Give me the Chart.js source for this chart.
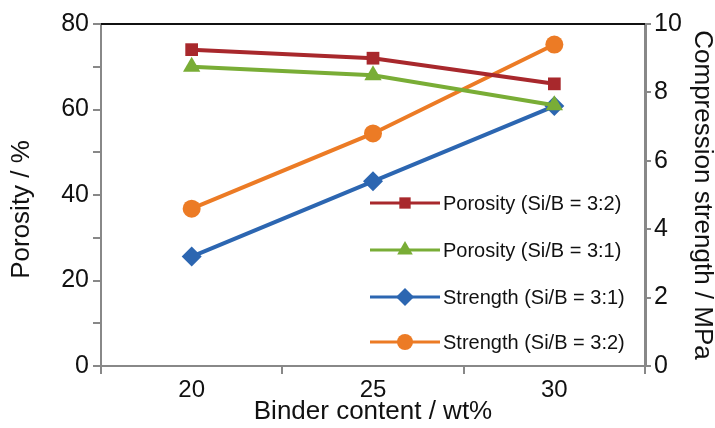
<!DOCTYPE html>
<html>
<head>
<meta charset="utf-8">
<script src="https://cdn.jsdelivr.net/npm/chart.js@4.4.0/dist/chart.umd.min.js"></script>
<style>
  html, body { margin: 0; padding: 0; background: #fff; }
  #wrap { width: 715px; height: 428px; }
</style>
</head>
<body>
<div id="wrap"><canvas id="chart" width="715" height="428"></canvas></div>
<script>
// данные с графика
const binderContent = ['20', '25', '30'];
const porosity32 = [74, 72, 66];
const porosity31 = [70, 68, 61];
const strength31 = [3.2, 5.4, 7.6];
const strength32 = [4.6, 6.8, 9.4];

const RED = '#a8282c';
const GREEN = '#79ad36';
const BLUE = '#2c66b1';
const ORANGE = '#ec7b25';

const FONT = "'Liberation Sans', Arial, sans-serif";

// легенда: линия + маркер посередине + подпись
const lineLegend = {
    id: 'lineLegend',
    afterDraw(chart) {
        const ctx = chart.ctx;
        const x0 = 370, x1 = 440;
        const rows = [203, 250, 297, 342];
        chart.data.datasets.forEach((ds, i) => {
            const y = rows[i];
            ctx.save();
            ctx.strokeStyle = ds.borderColor;
            ctx.lineWidth = 3;
            ctx.beginPath();
            ctx.moveTo(x0, y);
            ctx.lineTo(x1, y);
            ctx.stroke();
            ctx.fillStyle = ds.borderColor;
            Chart.helpers.drawPoint(ctx, {
                pointStyle: ds.pointStyle,
                radius: ds.pointRadius - 1,
                rotation: 0,
                borderWidth: 0
            }, (x0 + x1) / 2, y);
            ctx.fillStyle = '#111';
            ctx.font = '20px ' + FONT;
            ctx.textBaseline = 'middle';
            ctx.textAlign = 'left';
            ctx.fillText(ds.label, x1 + 3, y + 1);
            ctx.restore();
        });
    }
};

// верхняя чёрная рамка
const topBorder = {
    id: 'topBorder',
    afterDraw(chart) {
        const a = chart.chartArea;
        const ctx = chart.ctx;
        ctx.save();
        ctx.strokeStyle = '#111';
        ctx.lineWidth = 2;
        ctx.beginPath();
        ctx.moveTo(a.left, a.top);
        ctx.lineTo(a.right, a.top);
        ctx.stroke();
        ctx.restore();
    }
};

function series(label, data, color, style, radius, axis) {
    return {
        label: label,
        data: data,
        yAxisID: axis,
        borderColor: color,
        backgroundColor: color,
        borderWidth: 4,
        pointStyle: style,
        pointRadius: radius,
        pointHoverRadius: radius,
        pointBorderWidth: 0,
        tension: 0
    };
}

new Chart(document.getElementById('chart'), {
    type: 'line',
    data: {
        labels: binderContent,
        datasets: [
            series('Porosity (Si/B = 3:2)', porosity32, RED, 'rect', 9, 'y'),
            series('Porosity (Si/B = 3:1)', porosity31, GREEN, 'triangle', 10, 'y'),
            series('Strength (Si/B = 3:1)', strength31, BLUE, 'rectRot', 10, 'y1'),
            series('Strength (Si/B = 3:2)', strength32, ORANGE, 'circle', 9, 'y1')
        ]
    },
    options: {
        responsive: false,
        animation: false,
        layout: { padding: { top: 24, left: 0, right: 0, bottom: 0 } },
        plugins: {
            legend: { display: false },
            tooltip: { enabled: false }
        },
        scales: {
            x: {
                offset: true,
                grid: { offset: true, drawOnChartArea: false, color: '#888', tickLength: 8, lineWidth: 2 },
                border: { color: '#888', width: 2 },
                ticks: { color: '#111', font: { family: FONT, size: 24 }, padding: 2 },
                title: { display: true, text: 'Binder content / wt%', color: '#111', font: { family: FONT, size: 26 }, padding: { top: 0, bottom: 1 } },
                afterFit(s) { s.height = 62; }
            },
            y: {
                position: 'left',
                min: 0, max: 80,
                grid: { drawOnChartArea: false, color: '#888', tickLength: 8, lineWidth: 2 },
                border: { color: '#888', width: 2 },
                ticks: {
                    stepSize: 10,
                    color: '#111',
                    font: { family: FONT, size: 25 },
                    padding: 4,
                    callback: v => (v % 20 === 0 ? v : '')
                },
                // пробелы в конце сдвигают подпись чуть ниже, как в оригинале
                title: { display: true, text: 'Porosity / %    ', color: '#111', font: { family: FONT, size: 26 }, padding: { top: 6, bottom: 0 } },
                afterFit(s) { s.width = 101; }
            },
            y1: {
                position: 'right',
                min: 0, max: 10,
                grid: { drawOnChartArea: false, color: '#888', tickLength: 6, lineWidth: 2 },
                border: { color: '#888', width: 3 },
                ticks: { stepSize: 2, color: '#111', font: { family: FONT, size: 25 }, padding: 3 },
                title: { display: true, text: 'Compression strength / MPa', color: '#111', font: { family: FONT, size: 26, lineHeight: 1 }, padding: { top: 0, bottom: 0 } },
                afterFit(s) { s.width = 70; }
            }
        }
    },
    plugins: [lineLegend, topBorder]
});
</script>
</body>
</html>
